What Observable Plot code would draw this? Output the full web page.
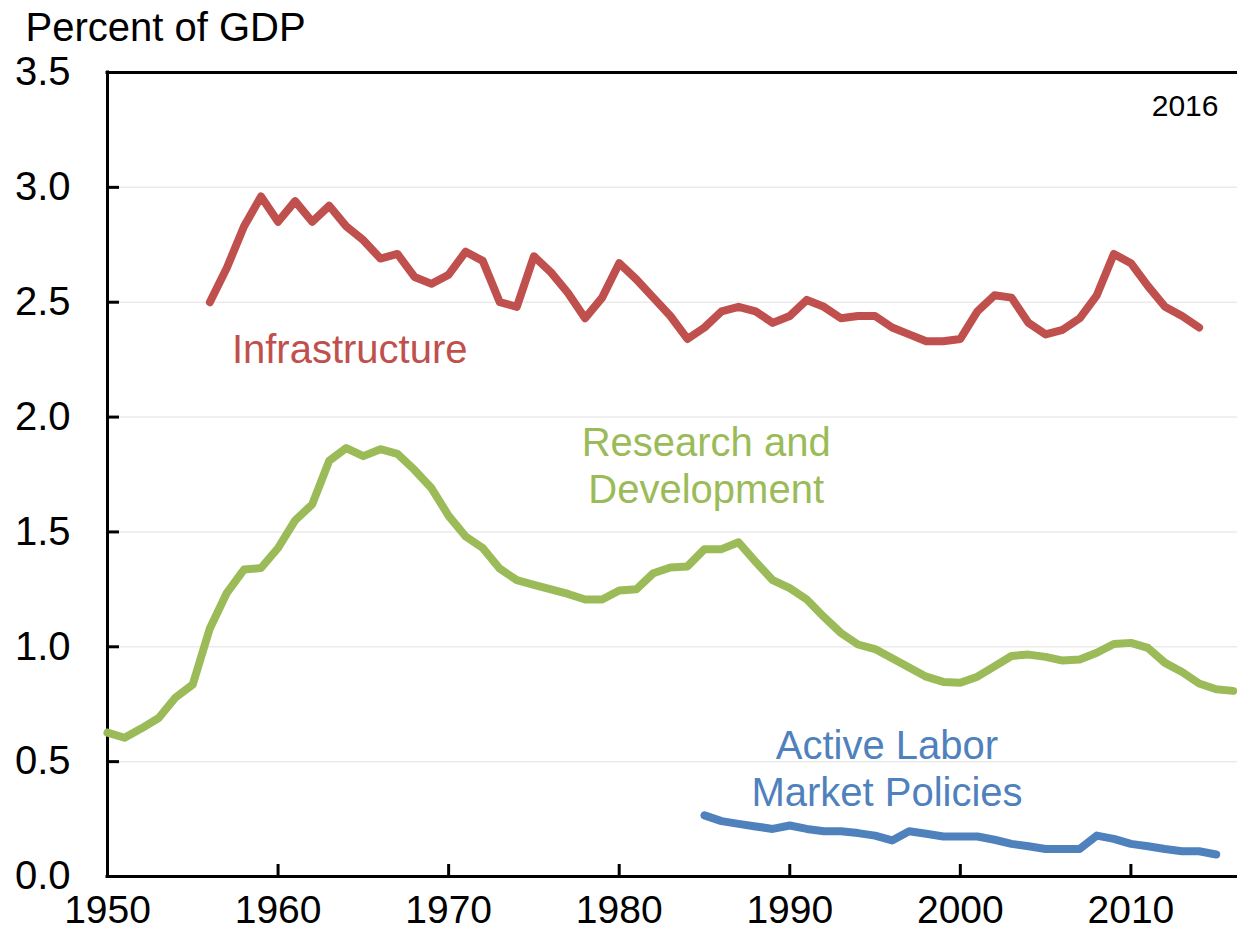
<!DOCTYPE html>
<html><head><meta charset="utf-8">
<script src="https://cdn.jsdelivr.net/npm/d3@7"></script>
<script src="https://cdn.jsdelivr.net/npm/@observablehq/plot@0.6"></script>
<style>
body{margin:0;background:#fff}
#chart{width:1237px;height:931px;overflow:hidden}
</style>
</head><body><div id="chart"></div>
<script>
// ---- data ----
const infraYears = d3.range(1956, 2015);
const infraValues = [2.50,2.65,2.83,2.96,2.85,2.94,2.85,2.92,2.83,2.77,2.69,2.71,2.61,2.58,2.62,2.72,2.68,2.50,2.48,2.70,
  2.63,2.54,2.43,2.52,2.67,2.60,2.52,2.44,2.34,2.39,2.46,2.48,2.46,2.41,2.44,2.51,2.48,2.43,2.44,2.44,
  2.39,2.36,2.33,2.33,2.34,2.46,2.53,2.52,2.41,2.36,2.38,2.43,2.53,2.71,2.67,2.57,2.48,2.44,2.39];
const rdYears = d3.range(1950, 2017);
const rdValues = [0.626,0.604,0.645,0.69,0.78,0.836,1.08,1.235,1.336,1.343,1.43,1.55,1.62,1.81,1.865,1.83,1.86,1.84,1.77,1.69,
  1.57,1.48,1.43,1.34,1.29,1.27,1.25,1.23,1.206,1.206,1.245,1.25,1.32,1.345,1.35,1.425,1.425,1.455,1.37,1.29,
  1.255,1.206,1.13,1.06,1.01,0.99,0.95,0.91,0.87,0.847,0.843,0.87,0.915,0.96,0.966,0.956,0.94,0.945,0.974,1.012,
  1.017,0.995,0.93,0.89,0.84,0.815,0.808];
const almpYears = d3.range(1985, 2016);
const almpValues = [0.266,0.241,0.229,0.218,0.207,0.222,0.207,0.197,0.197,0.189,0.178,0.157,0.197,0.186,0.174,0.174,
  0.174,0.16,0.142,0.132,0.12,0.12,0.12,0.178,0.164,0.142,0.132,0.12,0.11,0.11,0.096];

const seriesKeys = ["Infrastructure","Research and Development","Active Labor Market Policies"];
const seriesLabels = ["Infrastructure","Research and\nDevelopment","Active Labor\nMarket Policies"];
const labelYears = [1964.2, 1985.1, 1995.7];
const labelValues = [2.30, 1.795, 0.476];
const colors = ["#C0504D","#9BBB59","#4F81BD"];
const yTicks = [0,0.5,1,1.5,2,2.5,3,3.5];
const xTicks = [1950,1960,1970,1980,1990,2000,2010];
const unitLabel = "Percent of GDP";
const yearNote = "2016";

// ---- build table ----
const rows = [];
infraYears.forEach((yr,i)=>rows.push({series:seriesKeys[0], year:yr, value:infraValues[i]}));
rdYears.forEach((yr,i)=>rows.push({series:seriesKeys[1], year:yr, value:rdValues[i]}));
almpYears.forEach((yr,i)=>rows.push({series:seriesKeys[2], year:yr, value:almpValues[i]}));
const labels = seriesKeys.map((k,i)=>({series:k, text:seriesLabels[i], year:labelYears[i], value:labelValues[i]}));

const W = 1237, H = 931, mL = 107, mR = 0, mT = 72, mB = 55;
const font = "'Liberation Sans', Arial, Helvetica, sans-serif";

const chart = Plot.plot({
  width: W, height: H,
  marginLeft: mL, marginRight: mR, marginTop: mT, marginBottom: mB,
  x: {domain: [1950, 2016.25]},
  y: {domain: [0, 3.5]},
  color: {domain: seriesKeys, range: colors},
  style: {fontFamily: font, fontSize: "40px", color: "#000", background: "#fff", overflow: "visible"},
  marks: [
    Plot.ruleY(yTicks.slice(1, -1), {stroke: "#ebebeb", strokeWidth: 1.5}),
    Plot.axisY(yTicks, {tickSize: 0, tickPadding: 37, tickFormat: d3.format(".1f"), label: null, fontSize: 40}),
    Plot.axisX(xTicks, {tickSize: 0, tickPadding: 19, tickFormat: d => String(d), label: null, fontSize: 39}),
    Plot.tickY(yTicks, {y: d => d, stroke: "#000", strokeWidth: 3, insetRight: (W - mL - mR) - 12}),
    Plot.tickX(xTicks, {x: d => d, stroke: "#000", strokeWidth: 3, insetTop: (H - mT - mB) - 12}),
    Plot.ruleY([0, 3.5], {stroke: "#000", strokeWidth: 3, strokeLinecap: "square"}),
    Plot.ruleX([1950], {stroke: "#000", strokeWidth: 3, strokeLinecap: "square"}),
    Plot.line(rows, {x: "year", y: "value", z: "series", stroke: "series", strokeWidth: 8,
      strokeLinejoin: "round", strokeLinecap: "round"}),
    Plot.text(labels, {x: "year", y: "value", text: "text", fill: "series", fontSize: 40,
      lineHeight: 1.17, textAnchor: "middle", lineAnchor: "middle"}),
    Plot.text([unitLabel], {frameAnchor: "top-left", text: d => d, textAnchor: "start",
      lineAnchor: "bottom", dx: -82, dy: -32, fontSize: 40, fill: "#000"}),
    Plot.text([yearNote], {frameAnchor: "top-right", text: d => d, textAnchor: "end",
      lineAnchor: "bottom", dx: -19, dy: 43, fontSize: 30, fill: "#000"})
  ]
});
document.getElementById("chart").appendChild(chart);
</script>
</body></html>
